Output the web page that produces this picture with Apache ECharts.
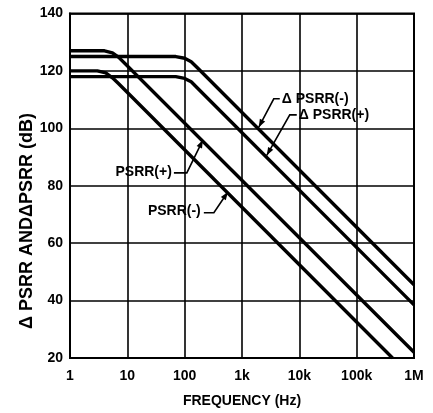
<!DOCTYPE html>
<html><head><meta charset="utf-8">
<script src="https://cdn.jsdelivr.net/npm/echarts@6/dist/echarts.min.js"></script>
<style>html,body{margin:0;padding:0;background:#fff}#c{width:433px;height:413px}</style>
</head><body><div id="c"></div>
<script>
// ---- data ----
const freqTicks = [1, 10, 100, 1000, 10000, 100000, 1000000];
const freqTickLabels = ['1', '10', '100', '1k', '10k', '100k', '1M'];
const dbTicks = [20, 40, 60, 80, 100, 120, 140];

// PSRR(+)
const psrrPlusFreq = [1, 4, 5.5, 7, 9, 1000000];
const psrrPlusDb   = [127, 127, 126.3, 124.8, 122.7, 22];
// PSRR(-)
const psrrMinusFreq = [1, 3, 4.2, 5.5, 7, 422000];
const psrrMinusDb   = [120, 120, 119.3, 117.6, 115.6, 20];
// ΔPSRR(-)
const dPsrrMinusFreq = [1, 70, 100, 130, 170, 1000000];
const dPsrrMinusDb   = [125, 125, 124.4, 123.2, 120.9, 45.5];
// ΔPSRR(+)
const dPsrrPlusFreq = [1, 70, 100, 130, 170, 1000000];
const dPsrrPlusDb   = [118, 118, 117.4, 116.2, 113.9, 38.5];

const seriesNames = ['PSRR(+)', 'PSRR(-)', 'Δ PSRR(-)', 'Δ PSRR(+)'];

// annotation anchors (data coordinates) and leader paths
const annotations = [
  { text: 'PSRR(+)',   at: [59.8, 84.9], align: 'right',
    path: [[64.9, 84.5], [109, 84.5], [207.5, 95.9]] },
  { text: 'PSRR(-)',   at: [191, 71.0], align: 'right',
    path: [[216, 70.6], [323, 70.6], [566, 77.8]] },
  { text: 'Δ PSRR(-)', at: [4937, 110.1], align: 'left',
    path: [[4560, 110.3], [3580, 110.3], [1963, 100.4]] },
  { text: 'Δ PSRR(+)', at: [9770, 104.7], align: 'left',
    path: [[9016, 104.7], [6807, 104.7], [2704, 90.6]] }
];

const FONT = '"Liberation Sans", Arial, Helvetica, sans-serif';
const zip = (a, b) => a.map((v, i) => [v, b[i]]);

const chart = echarts.init(document.getElementById('c'), null, { renderer: 'canvas' });

function lineSeries(name, f, d) {
  return {
    name, type: 'line', data: zip(f, d), symbol: 'none', smooth: false,
    lineStyle: { color: '#000', width: 3.4, cap: 'butt', join: 'round' },
    animation: false, silent: true, z: 5
  };
}

chart.setOption({
  animation: false,
  backgroundColor: '#fff',
  grid: { left: 70, right: 19, top: 13.5, bottom: 54.5, show: true, borderColor: '#000', borderWidth: 2, containLabel: false },
  xAxis: {
    type: 'log', logBase: 10, min: freqTicks[0], max: freqTicks[freqTicks.length - 1], splitNumber: 6,
    name: 'FREQUENCY (Hz)', nameLocation: 'middle', nameGap: 36,
    nameTextStyle: { fontFamily: FONT, fontWeight: 'bold', fontSize: 14, color: '#000' },
    axisLine: { show: true, lineStyle: { color: '#000', width: 2 } },
    axisTick: { show: false },
    minorTick: { show: false }, minorSplitLine: { show: false },
    splitLine: { show: true, lineStyle: { color: '#000', width: 1.6 } },
    axisLabel: {
      margin: 11, fontFamily: FONT, fontWeight: 'bold', fontSize: 14, color: '#000',
      formatter: v => freqTickLabels[Math.round(Math.log10(v))] ?? ''
    }
  },
  yAxis: {
    type: 'value', min: dbTicks[0], max: dbTicks[dbTicks.length - 1], interval: 20,
    axisLine: { show: true, lineStyle: { color: '#000', width: 2 } },
    axisTick: { show: false },
    splitLine: { show: true, lineStyle: { color: '#000', width: 1.6 } },
    axisLabel: { margin: 7, fontFamily: FONT, fontWeight: 'bold', fontSize: 14, color: '#000' }
  },
  series: [
    lineSeries(seriesNames[0], psrrPlusFreq, psrrPlusDb),
    lineSeries(seriesNames[1], psrrMinusFreq, psrrMinusDb),
    lineSeries(seriesNames[2], dPsrrMinusFreq, dPsrrMinusDb),
    lineSeries(seriesNames[3], dPsrrPlusFreq, dPsrrPlusDb)
  ]
});

// ---- annotations drawn via the chart's own coordinate conversion ----
const px = p => chart.convertToPixel({ gridIndex: 0 }, p);
const graphics = [];
annotations.forEach(a => {
  const pos = px(a.at);
  graphics.push({
    type: 'text', x: pos[0], y: pos[1], z: 10,
    style: { text: a.text, fill: '#000', font: 'bold 14px ' + FONT, align: a.align, verticalAlign: 'middle' }
  });
  const pts = a.path.map(px);
  graphics.push({
    type: 'polyline', z: 10,
    shape: { points: pts },
    style: { stroke: '#000', lineWidth: 1.6, fill: null }
  });
  const tip = pts[pts.length - 1], prev = pts[pts.length - 2];
  const dx = tip[0] - prev[0], dy = tip[1] - prev[1];
  const L = Math.hypot(dx, dy), ux = dx / L, uy = dy / L;
  const len = 8, hw = 3;
  const bx = tip[0] - ux * len, by = tip[1] - uy * len;
  graphics.push({
    type: 'polygon', z: 10,
    shape: { points: [tip, [bx - uy * hw, by + ux * hw], [bx + uy * hw, by - ux * hw]] },
    style: { fill: '#000' }
  });
});
// y-axis title
graphics.push({
  type: 'text', x: 27, y: 221, rotation: Math.PI / 2, z: 10,
  style: { text: 'Δ PSRR ANDΔPSRR (dB)', fill: '#000', font: 'bold 18px ' + FONT, align: 'center', verticalAlign: 'middle' }
});
chart.setOption({ graphic: graphics });
</script></body></html>
